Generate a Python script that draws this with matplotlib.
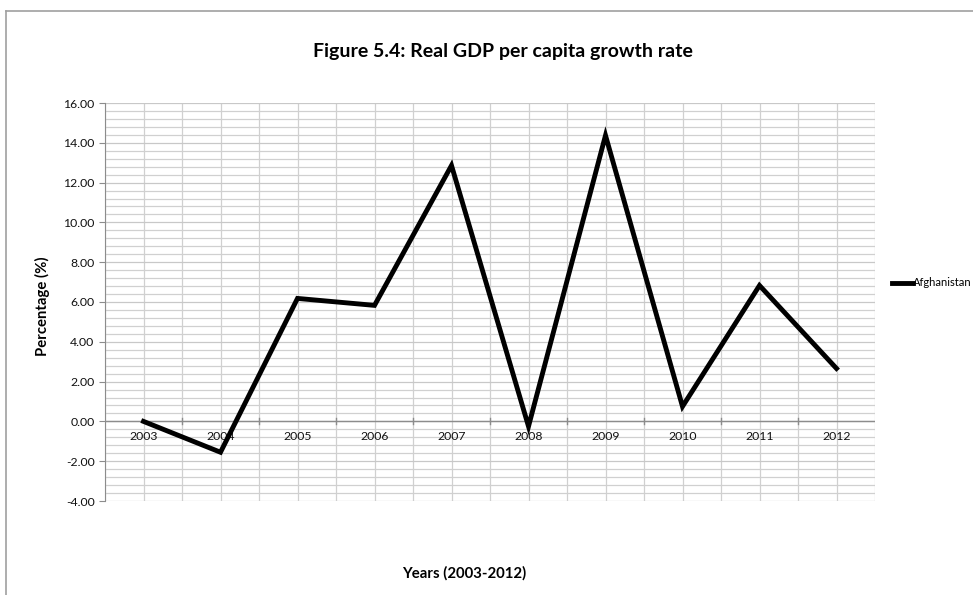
import numpy as np
import matplotlib
matplotlib.use("Agg")
import matplotlib.pyplot as plt
from matplotlib.lines import Line2D
from matplotlib.ticker import MultipleLocator, FormatStrFormatter

years = ["2003", "2004", "2005", "2006", "2007", "2008", "2009", "2010", "2011", "2012"]
growth = [0.0, -1.55, 6.18, 5.83, 12.86, -0.25, 14.37, 0.75, 6.83, 2.66]
series_name = "Afghanistan"

plt.rcParams['font.family'] = ['Lato', 'DejaVu Sans']

W, H = 973, 595
fig = plt.figure(figsize=(W / 100, H / 100), dpi=100)
fig.patch.set_facecolor("white")

# axes box in pixels: x 105..875, y 103..501
ax = fig.add_axes([105 / W, 1 - 501 / H, 770 / W, 398 / H])

x = np.arange(len(years))
ax.plot(x, growth, color="black", lw=3.5, solid_joinstyle="miter", label=series_name, zorder=5)

ax.set_xlim(-0.5, len(years) - 0.5)
ax.set_ylim(-4, 16)

# horizontal grid: majors every 2, minors every 0.4
ax.yaxis.set_major_locator(MultipleLocator(2))
ax.yaxis.set_minor_locator(MultipleLocator(0.4))
ax.yaxis.set_major_formatter(FormatStrFormatter("%.2f"))
ax.grid(which="major", axis="y", color="#c8c8c8", lw=0.9)
ax.grid(which="minor", axis="y", color="#d0d0d0", lw=0.9)

# vertical grid at category centres and boundaries
for xv in np.arange(-0.5, len(years), 0.5):
    ax.axvline(xv, color="#d0d0d0", lw=0.9, zorder=1)

ax.set_xticks([])
for i, yr in enumerate(years):
    ax.text(i, -0.5, yr, ha="center", va="top", fontsize=8.8, color="#111111")

# category axis sits at zero
ax.axhline(0, color="#8c8c8c", lw=1.0, zorder=3)
for b in np.arange(0.5, len(years) - 0.5, 1.0):
    ax.plot([b, b], [-0.15, 0.15], color="#8c8c8c", lw=1.0, zorder=3)

for s in ["top", "right", "bottom"]:
    ax.spines[s].set_visible(False)
ax.spines["left"].set_color("#8c8c8c")
ax.tick_params(axis="y", which="major", length=4, color="#8c8c8c", labelsize=8.8, labelcolor="#111111")
ax.tick_params(axis="y", which="minor", length=0)

fig.text(503 / W, 1 - 52 / H, "Figure 5.4: Real GDP per capita growth rate",
         ha="center", va="center", fontsize=14, fontweight="bold")
fig.text(464 / W, 1 - 573 / H, "Years (2003-2012)", ha="center", va="center",
         fontsize=10.7, fontweight="bold")
fig.text(42 / W, 1 - 306 / H, "Percentage (%)", ha="center", va="center",
         rotation=90, fontsize=10.7, fontweight="bold")

leg = fig.legend(loc="center left", bbox_to_anchor=(886 / W, 1 - 283 / H), frameon=False,
                 fontsize=8, handlelength=1.9, handletextpad=0.0, borderpad=0)

# chart area border (top and left edges)
fig.add_artist(Line2D([6 / W, 1], [1 - 11 / H, 1 - 11 / H], color="#a0a0a0", lw=1.2))
fig.add_artist(Line2D([6 / W, 6 / W], [0, 1 - 11 / H], color="#a0a0a0", lw=1.2))

fig.savefig("out.png", dpi=100, facecolor="white")
